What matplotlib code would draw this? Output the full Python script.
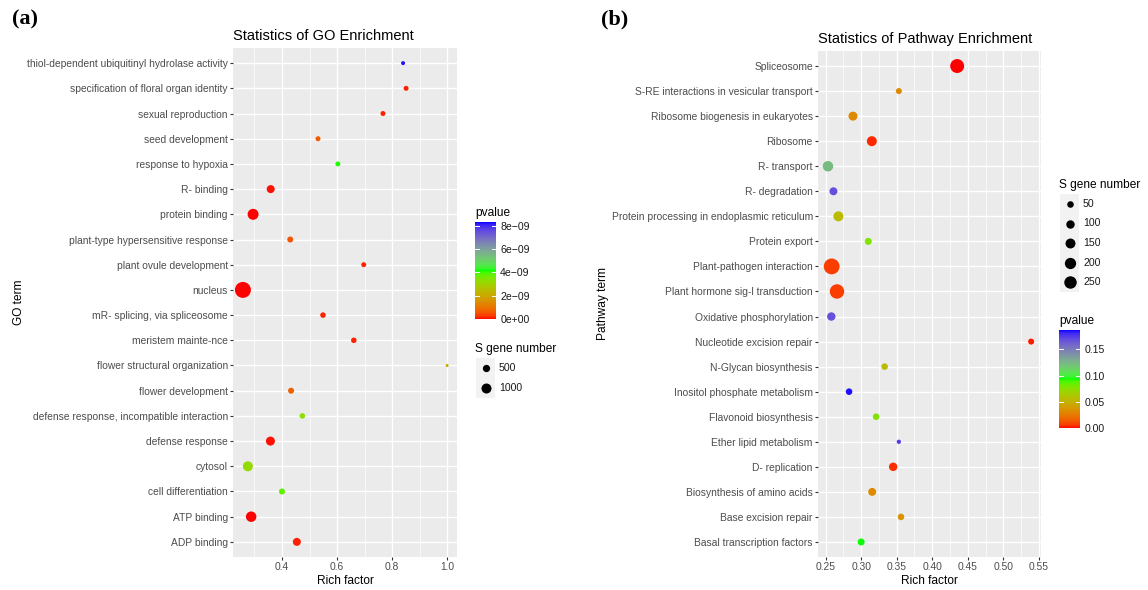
import numpy as np
import matplotlib
matplotlib.use("Agg")
import matplotlib.pyplot as plt
from matplotlib.colors import ListedColormap, Normalize
from matplotlib.colorbar import ColorbarBase
from matplotlib.patches import Rectangle

plt.rcParams["font.family"] = ["Liberation Sans", "DejaVu Sans"]

# ---- (a) GO enrichment, listed top to bottom ----
go_terms = ["thiol-dependent ubiquitinyl hydrolase activity", "specification of floral organ identity",
            "sexual reproduction", "seed development", "response to hypoxia", "R- binding",
            "protein binding", "plant-type hypersensitive response", "plant ovule development",
            "nucleus", "mR- splicing, via spliceosome", "meristem mainte-nce",
            "flower structural organization", "flower development",
            "defense response, incompatible interaction", "defense response", "cytosol",
            "cell differentiation", "ATP binding", "ADP binding"]
go_rich = [0.84, 0.851, 0.767, 0.531, 0.603, 0.359, 0.295, 0.43, 0.697, 0.258,
           0.549, 0.661, 1.0, 0.433, 0.474, 0.358, 0.276, 0.40, 0.288, 0.454]
go_genes = [106, 200, 200, 200, 200, 620, 1220, 320, 200, 2650,
            260, 260, 35, 320, 260, 800, 1000, 320, 1100, 620]
go_pval = [8.2e-9, 0.1e-9, 0.1e-9, 0.6e-9, 4.1e-9, 0.05e-9, 0.0, 0.6e-9, 0.1e-9, 0.0,
           0.1e-9, 0.1e-9, 2.1e-9, 0.7e-9, 3.3e-9, 0.05e-9, 3.2e-9, 3.8e-9, 0.0, 0.1e-9]

# ---- (b) pathway enrichment, listed top to bottom ----
kegg_terms = ["Spliceosome", "S-RE interactions in vesicular transport",
              "Ribosome biogenesis in eukaryotes", "Ribosome", "R- transport", "R- degradation",
              "Protein processing in endoplasmic reticulum", "Protein export",
              "Plant-pathogen interaction", "Plant hormone sig-l transduction",
              "Oxidative phosphorylation", "Nucleotide excision repair", "N-Glycan biosynthesis",
              "Inositol phosphate metabolism", "Flavonoid biosynthesis", "Ether lipid metabolism",
              "D- replication", "Biosynthesis of amino acids", "Base excision repair",
              "Basal transcription factors"]
kegg_rich = [0.435, 0.353, 0.2885, 0.315, 0.2533, 0.261, 0.268, 0.310, 0.2585, 0.266,
             0.258, 0.539, 0.333, 0.283, 0.321, 0.353, 0.345, 0.3155, 0.356, 0.300]
kegg_genes = [320, 38, 118, 152, 170, 87, 152, 61, 420, 345,
              100, 38, 50, 50, 50, 6, 100, 87, 50, 61]
kegg_pval = [0.0, 0.032, 0.032, 0.003, 0.122, 0.168, 0.055, 0.078, 0.007, 0.007,
             0.168, 0.002, 0.055, 0.185, 0.078, 0.175, 0.004, 0.032, 0.036, 0.094]


# red -> green -> blue ramp interpolated in CIELAB (like ggplot's gradientn)
M = np.array([[0.4124, 0.3576, 0.1805], [0.2126, 0.7152, 0.0722], [0.0193, 0.1192, 0.9505]])
WP = np.array([0.95047, 1.0, 1.08883])


def to_lab(rgb):
    c = np.asarray(rgb, float)
    c = np.where(c <= 0.04045, c / 12.92, ((c + 0.055) / 1.055) ** 2.4)
    xyz = M @ c / WP
    f = np.where(xyz > 0.008856, np.cbrt(xyz), 7.787 * xyz + 16 / 116)
    return np.array([116 * f[1] - 16, 500 * (f[0] - f[1]), 200 * (f[1] - f[2])])


def to_rgb(lab):
    fy = (lab[0] + 16) / 116
    f = np.array([fy + lab[1] / 500, fy, fy - lab[2] / 200])
    xyz = np.where(f ** 3 > 0.008856, f ** 3, (f - 16 / 116) / 7.787) * WP
    c = np.clip(np.linalg.inv(M) @ xyz, 0, None)
    c = np.where(c <= 0.0031308, 12.92 * c, 1.055 * c ** (1 / 2.4) - 0.055)
    return np.clip(c, 0, 1)


stops = [to_lab(c) for c in [(1, 0, 0), (0, 1, 0), (0, 0, 1)]]
ramp = []
for t in np.linspace(0, 1, 256):
    i = 0 if t < 0.5 else 1
    u = t * 2 - i
    ramp.append(to_rgb(stops[i] * (1 - u) + stops[i + 1] * u))
cmap = ListedColormap(ramp)

W, H = 1148, 590
fig = plt.figure(figsize=(W / 100, H / 100), dpi=100)


def px_rect(x0, y0, x1, y1):
    return [x0 / W, 1 - y1 / H, (x1 - x0) / W, (y1 - y0) / H]


def panel(rect, terms, rich, genes, pval, vmax, xlim, major, minor, title, ylabel, sz):
    ax = fig.add_axes(rect)
    ax.set_facecolor("#EBEBEB")
    y = np.arange(len(terms))[::-1]
    ax.scatter(rich, y, s=sz(np.array(genes)), c=pval, cmap=cmap, vmin=0, vmax=vmax,
               linewidths=0, zorder=3)
    ax.set_yticks(y, terms)
    ax.set_xticks(major)
    ax.set_xticks(minor, minor=True)
    ax.set_xlim(xlim)
    ax.set_ylim(-0.6, len(terms) - 0.4)
    ax.grid(which="major", color="white", lw=1.0)
    ax.grid(which="minor", axis="x", color="white", lw=0.5)
    ax.set_axisbelow(True)
    for s in ax.spines.values():
        s.set_visible(False)
    ax.tick_params(which="major", color="#333333", labelcolor="#4D4D4D", labelsize=7.4,
                   length=2.2, width=0.8, pad=1.5)
    ax.tick_params(which="minor", length=0)
    ax.set_title(title, loc="left", fontsize=10.5, pad=6)
    ax.set_xlabel("Rich factor", fontsize=8.6)
    ax.set_ylabel(ylabel, fontsize=8.6)
    return ax


def size_a(n):
    return 0.5184 * (6 + 0.094 * n)


def size_b(n):
    return 0.5184 * (15 + 0.56 * n)


ax1 = panel(px_rect(233, 48, 457, 557), go_terms, go_rich, go_genes, go_pval, 8.3e-9,
            (0.222, 1.036), [0.4, 0.6, 0.8, 1.0], [0.3, 0.5, 0.7, 0.9],
            "Statistics of GO Enrichment", "GO term", size_a)
ax1.set_xticklabels(["0.4", "0.6", "0.8", "1.0"])
ax1.yaxis.set_label_coords(-0.928, 0.5)
ax1.xaxis.set_label_coords(0.5, -0.035)

ax2 = panel(px_rect(818, 51, 1041, 557), kegg_terms, kegg_rich, kegg_genes, kegg_pval, 0.187,
            (0.2393, 0.5529), np.arange(0.25, 0.551, 0.05), np.arange(0.275, 0.55, 0.05),
            "Statistics of Pathway Enrichment", "Pathway term", size_b)
ax2.set_xticklabels(["0.25", "0.30", "0.35", "0.40", "0.45", "0.50", "0.55"])
ax2.yaxis.set_label_coords(-0.939, 0.5)
ax2.xaxis.set_label_coords(0.5, -0.036)

# overlay in pixel coordinates for panel letters and legends
lay = fig.add_axes([0, 0, 1, 1])
lay.set_xlim(0, W)
lay.set_ylim(H, 0)
lay.axis("off")
lay.text(12, 19, "(a)", family="Liberation Serif", weight="bold", fontsize=16, va="center")
lay.text(601, 19, "(b)", family="Liberation Serif", weight="bold", fontsize=16, va="center")


def colorbar(x0, y0, x1, y1, vmax, ticks, labels, title):
    lay.text(x0, y0 - 9, title, fontsize=8.6, va="center")
    cax = fig.add_axes(px_rect(x0, y0, x1, y1))
    cb = ColorbarBase(cax, cmap=cmap, norm=Normalize(0, vmax), orientation="vertical")
    cb.outline.set_visible(False)
    cb.set_ticks(ticks, labels=labels)
    cax.tick_params(length=0, labelsize=7.6, labelcolor="#1A1A1A", pad=3)
    for t in ticks:
        cax.axhline(t, 0, 0.2, color="white", lw=0.7)
        cax.axhline(t, 0.8, 1, color="white", lw=0.7)


def size_legend(x0, y0, step, values, sz, title):
    lay.text(x0, y0 - 19, title, fontsize=8.6, va="center")
    for k, v in enumerate(values):
        yc = y0 + k * step
        lay.add_patch(Rectangle((x0 + 1, yc - step / 2), 19, step, color="#F2F2F2", lw=0))
        lay.scatter([x0 + 10.5], [yc], s=sz(v), color="black", linewidths=0)
        lay.text(x0 + 24, yc, str(v), fontsize=7.6, va="center", color="#1A1A1A")


colorbar(475, 222, 496, 319, 8.3e-9, [0, 2e-9, 4e-9, 6e-9, 8e-9],
         ["0e+00", "2e\u221209", "4e\u221209", "6e\u221209", "8e\u221209"], "pvalue")
size_legend(475, 368, 20, [500, 1000], size_a, "S gene number")

size_legend(1059, 204, 19.5, [50, 100, 150, 200, 250], size_b, "S gene number")
colorbar(1059, 330, 1080, 428, 0.187, [0, 0.05, 0.10, 0.15],
         ["0.00", "0.05", "0.10", "0.15"], "pvalue")

fig.savefig("out.png", dpi=100)
